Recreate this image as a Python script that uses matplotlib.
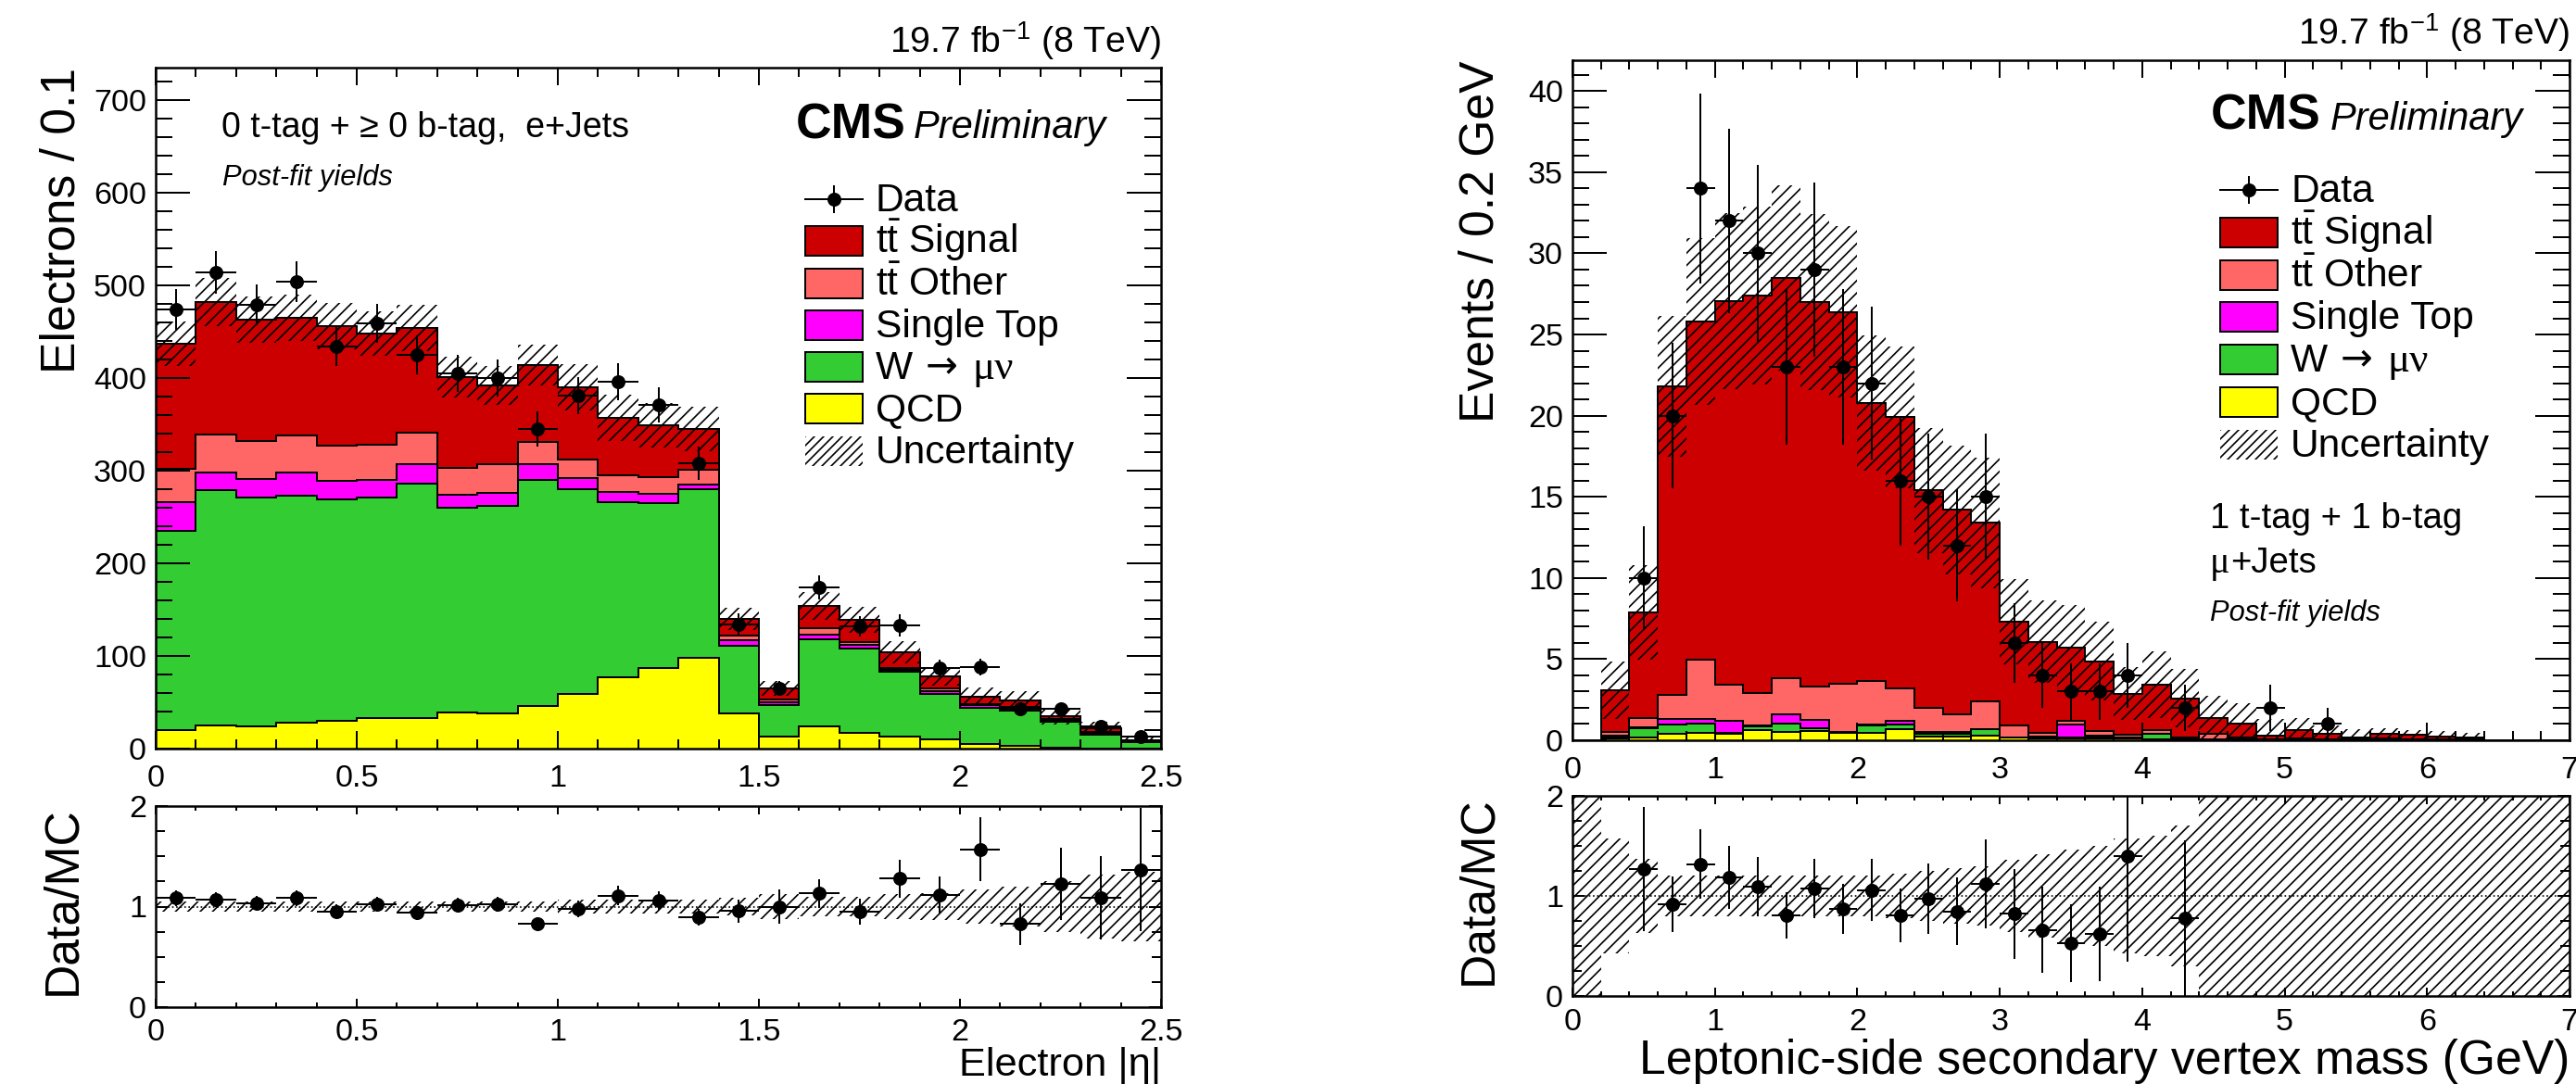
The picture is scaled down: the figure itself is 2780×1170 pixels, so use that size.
import numpy as np
import matplotlib
matplotlib.use('Agg')
import matplotlib.pyplot as plt
from matplotlib.ticker import MultipleLocator, FuncFormatter
from matplotlib.patches import Rectangle
from matplotlib.lines import Line2D

plt.rcParams['font.family'] = ['Liberation Sans', 'DejaVu Sans']
plt.rcParams['mathtext.fontset'] = 'custom'
plt.rcParams['mathtext.rm'] = 'Liberation Sans'
plt.rcParams['mathtext.it'] = 'Liberation Sans:italic'
plt.rcParams['mathtext.bf'] = 'Liberation Sans:bold'
plt.rcParams['hatch.linewidth'] = 1.0

# ---- left: electron |eta|, 0 t-tag, e+jets (bins of 0.1) ----
eta_edges = np.linspace(0, 2.5, 26)
eta_qcd = [20, 25, 24, 28, 30, 33, 33, 39, 38, 46, 59, 77, 87, 98, 38, 13, 24, 17, 13, 10, 5, 3, 1.5, 0.5, 0.3]
eta_wjets = [215, 254, 247, 245, 239, 238, 253, 221, 224, 244, 221, 189, 178, 182, 73, 34, 94, 91, 70, 49, 39, 38, 27.5, 14.5, 6.7]
eta_stop = [31, 19, 20, 25, 20, 19, 21, 14, 14, 17, 12, 11, 10, 5, 6, 3, 5, 4, 2, 3, 3, 2, 1, 1, 0.5]
eta_ttother = [36, 41, 41, 40, 38, 38, 34, 29, 31, 24, 20, 18, 18, 16, 5, 3, 7, 3, 2, 3, 1, 2, 2, 2, 1]
eta_ttsig = [135, 143, 131, 127, 129, 120, 113, 98, 85, 83, 78, 62, 56, 44, 18, 12, 24, 24, 17, 13, 8, 7, 3, 4, 1]
eta_data = [474, 514, 479, 504, 434, 459, 425, 405, 400, 345, 381, 396, 371, 308, 134, 65, 174, 132, 133, 87, 88, 43, 43, 24, 13]
eta_unc = [0.054] * 10 + [0.065, 0.07, 0.07, 0.07, 0.085, 0.12, 0.10, 0.10, 0.12, 0.13, 0.17, 0.20, 0.25, 0.32, 0.35]

# ---- right: leptonic-side secondary vertex mass, 1 t-tag + 1 b-tag, mu+jets (bins of 0.2 GeV) ----
svm_edges = np.linspace(0, 7, 36)
svm_qcd = [0, 0.10, 0.15, 0.38, 0.48, 0.38, 0.63, 0.51, 0.57, 0.44, 0.44, 0.67, 0.25, 0.25, 0.29, 0.15, 0.10, 0.13,
           0.10, 0.10, 0.05, 0.03, 0.02, 0.01, 0, 0, 0, 0, 0, 0, 0, 0, 0, 0, 0]
svm_wjets = [0, 0.09, 0.61, 0.57, 0.57, 0.06, 0.23, 0.54, 0.19, 0.04, 0.46, 0.28, 0.13, 0.13, 0.38, 0.02, 0.02, 0.06,
             0.10, 0.02, 0.33, 0.02, 0.02, 0.01, 0.01, 0.01, 0, 0, 0.02, 0, 0, 0, 0, 0, 0]
svm_stop = [0, 0.10, 0.04, 0.38, 0.28, 0.76, 0.04, 0.57, 0.52, 0.03, 0.05, 0.25, 0.13, 0.13, 0.03, 0.02, 0.11, 0.76,
            0.10, 0.03, 0.02, 0.03, 0.02, 0.01, 0.01, 0.01, 0.01, 0, 0.01, 0.01, 0, 0, 0, 0, 0]
svm_ttother = [0, 0.22, 0.59, 1.47, 3.66, 2.23, 2.00, 2.23, 2.05, 2.98, 2.73, 1.98, 1.49, 1.11, 1.72, 0.71, 0.25, 0.25,
               0.27, 0.17, 0.20, 0.11, 0.32, 0.16, 0.06, 0.08, 0.07, 0.05, 0.07, 0.05, 0.05, 0.03, 0, 0, 0]
svm_ttsig = [0, 2.59, 6.48, 19.0, 20.81, 23.62, 24.5, 24.65, 23.67, 22.91, 17.12, 16.72, 13.4, 12.58, 10.98, 6.4, 5.58,
             4.5, 4.29, 2.54, 2.83, 2.38, 0.99, 0.86, 0.21, 0.50, 0.34, 0.14, 0.28, 0.26, 0.20, 0.16, 0, 0, 0]
svm_data = [0, 0, 10, 20, 34, 32, 30, 23, 29, 23, 22, 16, 15, 12, 15, 6, 4, 3, 3, 4, 0, 2, 0, 0, 2, 0, 1, 0, 0, 0, 0, 0, 0, 0, 0]
svm_unc = [9, 0.57, 0.37, 0.2, 0.2, 0.2, 0.2, 0.2, 0.2, 0.2, 0.2, 0.22, 0.25, 0.28, 0.3, 0.36, 0.42, 0.46, 0.5, 0.57,
           0.6, 0.7, 1.0, 1.2, 3.5, 1.3, 1.2, 2.5, 1.0, 1.0, 1.2, 1.3, 9, 9, 9]

col_sig = '#cc0000'
col_oth = '#ff6666'
col_st = '#ff00ff'
col_w = '#33cc33'
col_qcd = '#ffff00'
stack_colors = [col_qcd, col_w, col_st, col_oth, col_sig]

W, H, DPI = 2780, 1170, 120
fig = plt.figure(figsize=(W / DPI, H / DPI), dpi=DPI)


def fx(x):
    return x / W


def fy(y):
    return 1 - y / H


def axes_px(x0, y0, x1, y1):
    return fig.add_axes([fx(x0), fy(y1), (x1 - x0) / W, (y1 - y0) / H])


fmt = FuncFormatter(lambda v, p: f'{v:g}')


def style(ax, ymaj, ymin, xmaj, xmin, ylen, xlen, xpad):
    ax.xaxis.set_major_locator(MultipleLocator(xmaj))
    ax.xaxis.set_minor_locator(MultipleLocator(xmin))
    ax.yaxis.set_major_locator(MultipleLocator(ymaj))
    ax.yaxis.set_minor_locator(MultipleLocator(ymin))
    ax.xaxis.set_major_formatter(fmt)
    ax.yaxis.set_major_formatter(fmt)
    ax.tick_params(which='both', direction='in', top=True, right=True, width=1.2, labelsize=20.5)
    ax.tick_params(axis='y', which='major', length=ylen[0], pad=6)
    ax.tick_params(axis='y', which='minor', length=ylen[1])
    ax.tick_params(axis='x', which='major', length=xlen[0], pad=xpad)
    ax.tick_params(axis='x', which='minor', length=xlen[1])
    for s in ax.spines.values():
        s.set_linewidth(1.5)


def draw_main(ax, edges, comps, data, unc):
    comps = np.array(comps, dtype=float)
    data = np.array(data, dtype=float)
    unc = np.array(unc, dtype=float)
    cum = np.cumsum(comps, axis=0)
    total = cum[-1]
    centers = 0.5 * (edges[1:] + edges[:-1])
    binw = edges[1] - edges[0]
    for k in range(len(comps) - 1, -1, -1):
        ax.stairs(cum[k], edges, baseline=0, fill=True, facecolor=stack_colors[k],
                  edgecolor='black', linewidth=1.2)
    lo = np.clip(total * (1 - unc), 0, None)
    hi = total * (1 + unc)
    ax.bar(centers, hi - lo, bottom=lo, width=binw, fill=False, hatch='///',
           edgecolor='black', linewidth=0)
    m = data > 0
    ax.errorbar(centers[m], data[m], yerr=np.sqrt(data[m]), xerr=binw / 2, fmt='o',
                color='black', ms=8, elinewidth=1.2, capsize=0)
    return total, data, unc, centers, binw


def draw_ratio(ax, total, data, unc, centers, binw):
    lo = np.clip(1 - unc, 0, 2)
    hi = np.clip(1 + unc, 0, 2)
    ax.bar(centers, hi - lo, bottom=lo, width=binw, fill=False, hatch='///',
           edgecolor='black', linewidth=0)
    ax.axhline(1, ls=':', color='black', lw=1.0)
    m = (data > 0) & (total > 0)
    ratio = np.zeros_like(data)
    ratio[m] = data[m] / total[m]
    err = np.zeros_like(data)
    err[m] = ratio[m] * np.sqrt(1 / data[m] + unc[m] ** 2)
    m = m & (ratio <= 2)
    ax.errorbar(centers[m], ratio[m], yerr=err[m], xerr=binw / 2, fmt='o',
                color='black', ms=8, elinewidth=1.2, capsize=0)


# ---- left panel ----
axL = axes_px(168, 73, 1253, 808)
tot, dat, unc, cen, bw = draw_main(axL, eta_edges, [eta_qcd, eta_wjets, eta_stop, eta_ttother, eta_ttsig],
                                   eta_data, eta_unc)
axL.set_xlim(0, 2.5)
axL.set_ylim(0, 735)
style(axL, 100, 20, 0.5, 0.1, (22, 11), (11.5, 6), 10)

axLr = axes_px(168, 870, 1253, 1087)
draw_ratio(axLr, tot, dat, unc, cen, bw)
axLr.set_xlim(0, 2.5)
axLr.set_ylim(0, 2)
style(axLr, 1, 0.25, 0.5, 0.1, (8, 6), (5.5, 3), 7)

# ---- right panel ----
axR = axes_px(1697, 65, 2773, 799)
tot, dat, unc, cen, bw = draw_main(axR, svm_edges, [svm_qcd, svm_wjets, svm_stop, svm_ttother, svm_ttsig],
                                   svm_data, svm_unc)
axR.set_xlim(0, 7)
axR.set_ylim(0, 41.9)
style(axR, 5, 1, 1, 0.2, (22, 11), (11.5, 6), 10)

axRr = axes_px(1697, 859, 2773, 1075)
draw_ratio(axRr, tot, dat, unc, cen, bw)
axRr.set_xlim(0, 7)
axRr.set_ylim(0, 2)
style(axRr, 1, 0.25, 1, 0.2, (8, 6), (5.5, 3), 8)

# ---- axis titles ----
fig.text(fx(92), fy(73), 'Electrons / 0.1', rotation=90, ha='right', va='top', fontsize=31)
fig.text(fx(92), fy(870), 'Data/MC', rotation=90, ha='right', va='top', fontsize=31)
fig.text(fx(1253), fy(1161), 'Electron |η|', ha='right', va='baseline', fontsize=26)
fig.text(fx(1622), fy(65), 'Events / 0.2 GeV', rotation=90, ha='right', va='top', fontsize=31)
fig.text(fx(1620), fy(859), 'Data/MC', rotation=90, ha='right', va='top', fontsize=31)
fig.text(fx(2773), fy(1159), 'Leptonic-side secondary vertex mass (GeV)', ha='right', va='baseline', fontsize=31)

# ---- labels ----
for xr, yb in [(1253, 57), (2773, 48)]:
    fig.text(fx(xr), fy(yb), r'19.7 fb$^{-1}$ (8 TeV)', ha='right', va='baseline', fontsize=23.5)
for xc, xp, yb in [(859, 986, 149), (2386, 2515, 140)]:
    fig.text(fx(xc), fy(yb), 'CMS', fontweight='bold', fontsize=32, va='baseline')
    fig.text(fx(xp), fy(yb), 'Preliminary', fontstyle='italic', fontsize=25, va='baseline')

fig.text(fx(239), fy(148), '0 t-tag + ≥ 0 b-tag,  e+Jets', fontsize=22.5, va='baseline')
fig.text(fx(240), fy(200), 'Post-fit yields', fontstyle='italic', fontsize=18.5, va='baseline')
fig.text(fx(2385), fy(570), '1 t-tag + 1 b-tag', fontsize=23, va='baseline')
fig.text(fx(2385), fy(618), 'μ', family='Liberation Serif', fontsize=24, va='baseline')
fig.text(fx(2407), fy(618), '+Jets', fontsize=23, va='baseline')
fig.text(fx(2385), fy(670), 'Post-fit yields', fontstyle='italic', fontsize=18.5, va='baseline')

# ---- legends ----
leg_entries = [('data', 'Data', None),
               ('box', r'$\mathrm{t\bar{t}}$ Signal', col_sig),
               ('box', r'$\mathrm{t\bar{t}}$ Other', col_oth),
               ('box', 'Single Top', col_st),
               ('box', 'W', col_w),
               ('box', 'QCD', col_qcd),
               ('unc', 'Uncertainty', None)]


def draw_legend(xb, y0, pitch):
    bw_px, bh_px = 62, 32
    for i, (kind, label, col) in enumerate(leg_entries):
        y = y0 + i * pitch
        if kind == 'data':
            xc = xb + bw_px / 2
            fig.add_artist(Line2D([fx(xb), fx(xb + bw_px)], [fy(y), fy(y)], color='black', lw=1.2,
                                  transform=fig.transFigure))
            fig.add_artist(Line2D([fx(xc), fx(xc)], [fy(y - 14), fy(y + 14)], color='black', lw=1.2,
                                  transform=fig.transFigure))
            fig.add_artist(Line2D([fx(xc)], [fy(y)], marker='o', ms=8, color='black',
                                  transform=fig.transFigure))
        elif kind == 'box':
            fig.add_artist(Rectangle((fx(xb), fy(y + bh_px / 2)), bw_px / W, bh_px / H, facecolor=col,
                                     edgecolor='black', lw=1.2, transform=fig.transFigure))
        else:
            fig.add_artist(Rectangle((fx(xb), fy(y + bh_px / 2)), bw_px / W, bh_px / H, fill=False,
                                     hatch='////', edgecolor='black', lw=0, transform=fig.transFigure))
        fig.text(fx(xb + 76), fy(y + 13), label, fontsize=25.5, va='baseline')
        if label == 'W':
            fig.text(fx(xb + 130), fy(y + 11), '→', family='DejaVu Sans', fontsize=25, va='baseline')
            fig.text(fx(xb + 180), fy(y + 13), 'μν', family='Liberation Serif', fontsize=27, va='baseline')


draw_legend(869, 215, 45.3)
draw_legend(2396, 205, 45.8)

fig.savefig('out.png', dpi=DPI)
